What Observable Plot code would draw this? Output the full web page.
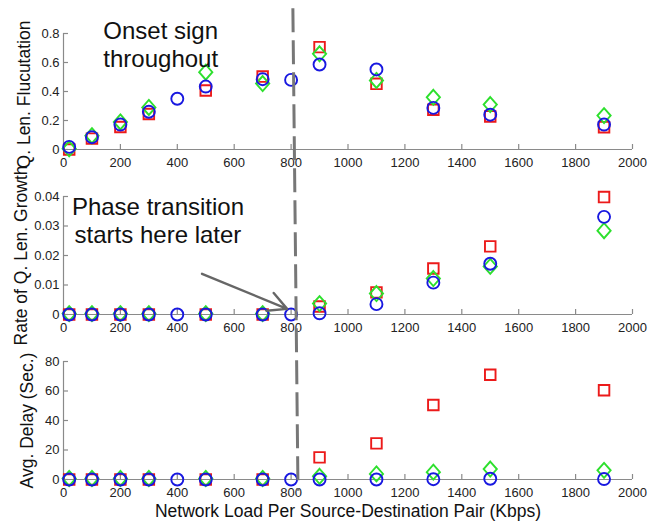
<!DOCTYPE html>
<html><head><meta charset="utf-8">
<script src="https://cdn.jsdelivr.net/npm/d3@7"></script>
<script src="https://cdn.jsdelivr.net/npm/@observablehq/plot@0.6"></script>
<style>
body{margin:0;background:#fff;}
#chart{position:relative;width:649px;height:521px;font-family:"Liberation Sans",Arial,sans-serif;}
#chart svg{position:absolute;left:0;top:0;overflow:visible;background:transparent;}
</style></head><body><div id="chart"></div>
<script>
// ---- data ----
const loadsRG = [20,100,200,300,500,700,900,1100,1300,1500,1900];
const loadsB  = [20,100,200,300,400,500,700,800,900,1100,1300,1500,1900];
const xTicks = [0,200,400,600,800,1000,1200,1400,1600,1800,2000];

const fluctRed   = [0.00,0.075,0.155,0.245,0.407,0.503,0.706,0.453,0.274,0.228,0.154];
const fluctGreen = [0.005,0.095,0.19,0.29,0.533,0.455,0.66,0.476,0.36,0.31,0.234];
const fluctBlue  = [0.018,0.085,0.172,0.26,0.35,0.434,0.485,0.48,0.586,0.552,0.287,0.24,0.172];
const fluctTicks = [0,0.2,0.4,0.6,0.8];

const growthRed   = [0,0,0,0,0,0,0.0027,0.0075,0.0156,0.0231,0.0398];
const growthGreen = [0.0003,0.0003,0.0003,0.0003,0.0003,0.0003,0.0037,0.0071,0.0122,0.0163,0.0284];
const growthBlue  = [0,0,0,0,0,0,0,0,0.0004,0.0035,0.0108,0.0172,0.0331];
const growthTicks = [0,0.01,0.02,0.03,0.04];

const delayRed   = [0,0,0,0,0,0,15,24.5,50.5,71,60.5];
const delayGreen = [0.7,0.7,0.7,0.7,0.7,0.7,2.2,3.8,5,7.1,6.2];
const delayBlue  = [0,0,0,0,0,0,0,0,0,0,0.2,0.5,0.3];
const delayTicks = [0,20,40,60,80];

const labels = ["Q. Len. Flucutation","Rate of Q. Len. Growth","Avg. Delay (Sec.)"];
const xLabel = "Network Load Per Source-Destination Pair (Kbps)";
const note1 = "Onset sign\nthroughout";
const note2 = "Phase transition\nstarts here later";

// ---- style ----
const W = 649, H = 521, mL = 63, mR = 17;
const RED = "#ec1a1a", GREEN = "#2de02d", BLUE = "#1818e0", AX = "#8a8a8a", TXT = "#222";
const font = "'Liberation Sans', Arial, sans-serif";

const symSquare = {draw(c, size){const r=Math.sqrt(size/Math.PI), s=r*0.88; c.rect(-s,-s,2*s,2*s);}};
const symDiamond = {draw(c, size){const r=Math.sqrt(size/Math.PI), w=r*1.1, h=r*1.25; c.moveTo(0,-h); c.lineTo(w,0); c.lineTo(0,h); c.lineTo(-w,0); c.closePath();}};
const symCircle = {draw(c, size){const r=Math.sqrt(size/Math.PI); c.moveTo(r,0); c.arc(0,0,r,0,2*Math.PI);}};

const zip = (xs, ys) => xs.map((x,i)=>({x, y: ys[i]}));

function panel({mt, mb, yDomain, yTicks, label, labelDx, labelDy, red, green, blue, extra = [], xlab = false}) {
  const fh = H - mt - mb, fw = W - mL - mR;
  const dotOpts = {x:"x", y:"y", r:6, fill:"none", strokeWidth:1.9};
  return Plot.plot({
    width: W, height: H, marginLeft: mL, marginRight: mR, marginTop: mt, marginBottom: mb,
    style: {background:"transparent", overflow:"visible", fontFamily: font},
    x: {domain:[0,2000]},
    y: {domain: yDomain},
    marks: [
      Plot.ruleX([0], {stroke: AX, strokeWidth: 1.2}),
      Plot.ruleY([yDomain[0]], {stroke: AX, strokeWidth: 1.2}),
      Plot.ruleX(xTicks, {insetTop: fh - 5, stroke: AX, strokeWidth: 1.2}),
      Plot.ruleY(yTicks, {insetRight: fw - 5, stroke: AX, strokeWidth: 1.2}),
      Plot.axisX({ticks: xTicks, tickSize: 0, tickPadding: 8, tickFormat: d => String(d), fontSize: 13, color: TXT, label: null}),
      Plot.axisY({ticks: yTicks, tickSize: 0, tickPadding: 4, tickFormat: d => String(d), fontSize: 13, color: TXT, label: null}),
      Plot.dot(zip(loadsRG, red), {...dotOpts, symbol: symSquare, stroke: RED}),
      Plot.dot(zip(loadsRG, green), {...dotOpts, symbol: symDiamond, stroke: GREEN}),
      Plot.dot(zip(loadsB, blue), {...dotOpts, symbol: symCircle, stroke: BLUE}),
      Plot.text([label], {frameAnchor: "left", rotate: -90, dx: labelDx, dy: labelDy, lineAnchor: "bottom", textAnchor: "middle", fontSize: 17.5, fill: "#111"}),
      xlab ? Plot.text([xLabel], {frameAnchor: "bottom", dy: 37, lineAnchor: "bottom", fontSize: 17.5, fill: "#111"}) : null,
      ...extra
    ]
  });
}

const chart = document.getElementById("chart");

const p1 = panel({mt: 33, mb: H - 149, yDomain: [0, 0.8], yTicks: fluctTicks, label: labels[0], labelDx: -34, labelDy: 3,
  red: fluctRed, green: fluctGreen, blue: fluctBlue,
  extra: [Plot.text([note1], {x: [140], y: [0.566], textAnchor: "start", lineAnchor: "bottom", lineHeight: 1.17, fontSize: 24, fill: "#111"})]});

const p2 = panel({mt: 196, mb: H - 314, yDomain: [0, 0.04], yTicks: growthTicks, label: labels[1], labelDx: -37, labelDy: 0,
  red: growthRed, green: growthGreen, blue: growthBlue,
  extra: [
    Plot.text([note2], {x: [332], y: [0.0244], textAnchor: "middle", lineAnchor: "bottom", lineHeight: 1.13, fontSize: 24, fill: "#111"}),
    Plot.arrow([{x1: 487, y1: 0.0138, x2: 786, y2: 0.0019}], {x1: "x1", y1: "y1", x2: "x2", y2: "y2", stroke: "#666", strokeWidth: 2.4, headLength: 13, headAngle: 55})
  ]});

const p3 = panel({mt: 361, mb: H - 479, yDomain: [0, 80], yTicks: delayTicks, label: labels[2], labelDx: -31, labelDy: 0,
  red: delayRed, green: delayGreen, blue: delayBlue, xlab: true});

chart.append(p1, p2, p3);

// dashed divider through all panels (drawn with the panels' scales)
const dividerX = [808, 826];
const dividerTop = 0.97;   // panel 1 units
const dividerBottom = -8;  // panel 3 units
const xs = p1.scale("x"), y1s = p1.scale("y"), y3s = p3.scale("y");
const ov = d3.select(chart).append("svg").attr("width", W).attr("height", H);
ov.append("line")
  .attr("x1", xs.apply(dividerX[0])).attr("y1", y1s.apply(dividerTop))
  .attr("x2", xs.apply(dividerX[1])).attr("y2", y3s.apply(dividerBottom))
  .attr("stroke", "#777").attr("stroke-width", 3).attr("stroke-dasharray", "24,8");
</script></body></html>
